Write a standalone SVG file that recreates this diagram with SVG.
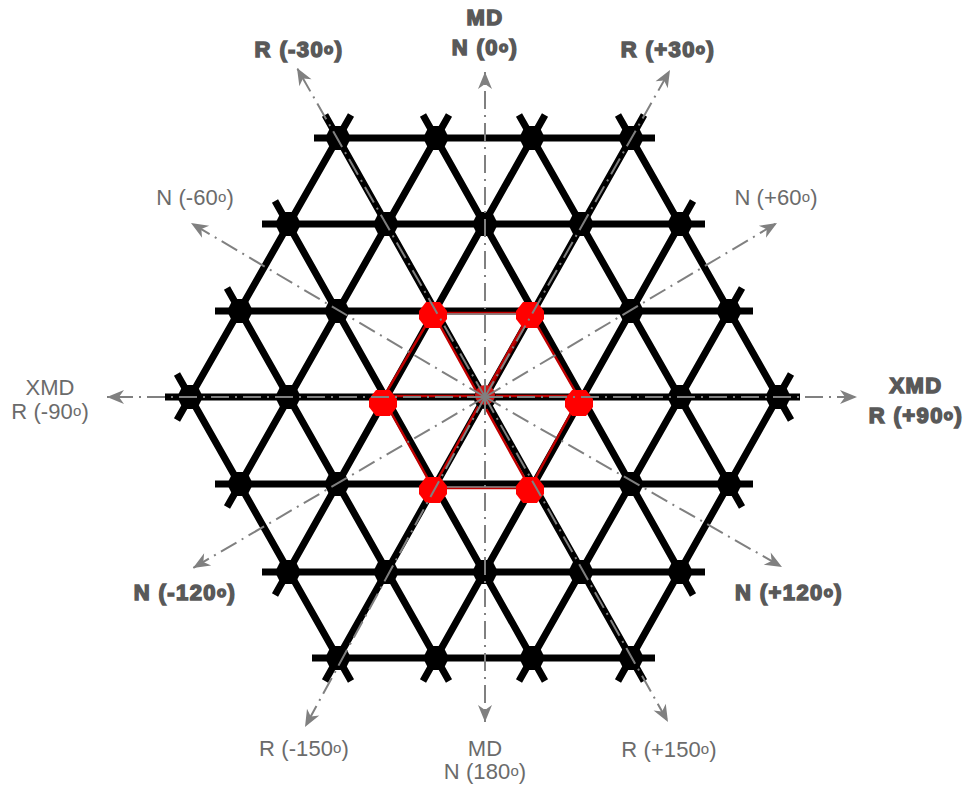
<svg xmlns="http://www.w3.org/2000/svg" width="966" height="785" viewBox="0 0 966 785">
<style>
.g{stroke:#000;stroke-width:7;fill:none}
.r{stroke:#c00000;stroke-width:2.5;fill:none;stroke-linecap:round}
.a{stroke:#808080;stroke-width:2;fill:none;stroke-dasharray:18 6 2 6;marker-end:url(#arr)}
.k{stroke:#8a8a8a;stroke-width:1.5;fill:none}
text{font-family:"Liberation Sans",Arial,sans-serif;font-size:22px;fill:#6b6b6b;text-anchor:middle;letter-spacing:.1px}
.b{font-size:22px;font-weight:bold;fill:#595959;stroke:#595959;stroke-width:1.5;letter-spacing:1.4px}
.s{font-size:15px}
</style>
<defs>
<marker id="arr" markerUnits="userSpaceOnUse" markerWidth="22" markerHeight="16" refX="19" refY="8" orient="auto"><path d="M19 8L2 1L7 8L2 15Z" fill="#808080"/></marker>
<polygon id="hb" points="-13,0 -7,-12 7,-12 13,0 7,12 -7,12" fill="#000"/>
<polygon id="hr" points="-14,-4 -7,-13 7,-13 14,-4 14,4 7,13 -7,13 -14,4" fill="#f00"/>
</defs>
<g id="connectors">
<path class="g" d="M314 138H655M262 224H705M215 311H753M165 397H800M215 484H753M262 572H705M312 658H655"/>
<path class="g" d="M618 115L791 420M519 115L742 507M423 115L693 595M325 115L644 681M275 201L545 681M227 288L449 681M177 374L351 681"/>
<path class="g" d="M351 115L177 420M449 115L227 507M545 115L275 595M644 115L325 681M693 201L423 681M742 288L519 681M791 374L618 681"/>
<path class="r" d="M433 313H530L579 398L530 488H433L383 398Z"/>
<path class="r" d="M383 396H579M433 313L530 488M530 313L433 488"/>
<path stroke="#c00000" stroke-width="4" stroke-opacity=".75" fill="none" d="M530 315L485 396"/>
<path class="k" d="M433 314H530M433 487H530"/>
</g>
<g id="nodes">
<g id="n01"><use href="#hb" x="338" y="138"/></g>
<g id="n02"><use href="#hb" x="436" y="138"/></g>
<g id="n03"><use href="#hb" x="532" y="138"/></g>
<g id="n04"><use href="#hb" x="631" y="138"/></g>
<g id="n05"><use href="#hb" x="288" y="224"/></g>
<g id="n06"><use href="#hb" x="386" y="224"/></g>
<g id="n07"><use href="#hb" x="485" y="224"/></g>
<g id="n08"><use href="#hb" x="581" y="224"/></g>
<g id="n09"><use href="#hb" x="680" y="224"/></g>
<g id="n10"><use href="#hb" x="240" y="311"/></g>
<g id="n11"><use href="#hb" x="337" y="311"/></g>
<g id="n12"><use href="#hb" x="631" y="311"/></g>
<g id="n13"><use href="#hb" x="729" y="311"/></g>
<g id="n14"><use href="#hb" x="190" y="397"/></g>
<g id="n15"><use href="#hb" x="288" y="397"/></g>
<g id="n16"><use href="#hb" x="680" y="397"/></g>
<g id="n17"><use href="#hb" x="778" y="397"/></g>
<g id="n18"><use href="#hb" x="240" y="484"/></g>
<g id="n19"><use href="#hb" x="337" y="484"/></g>
<g id="n20"><use href="#hb" x="631" y="484"/></g>
<g id="n21"><use href="#hb" x="729" y="484"/></g>
<g id="n22"><use href="#hb" x="288" y="572"/></g>
<g id="n23"><use href="#hb" x="386" y="572"/></g>
<g id="n24"><use href="#hb" x="485" y="572"/></g>
<g id="n25"><use href="#hb" x="581" y="572"/></g>
<g id="n26"><use href="#hb" x="680" y="572"/></g>
<g id="n27"><use href="#hb" x="338" y="658"/></g>
<g id="n28"><use href="#hb" x="436" y="658"/></g>
<g id="n29"><use href="#hb" x="532" y="658"/></g>
<g id="n30"><use href="#hb" x="631" y="658"/></g>
<g id="r1"><use href="#hr" x="433" y="315"/></g>
<g id="r2"><use href="#hr" x="530" y="315"/></g>
<g id="r3"><use href="#hr" x="383" y="403"/></g>
<g id="r4"><use href="#hr" x="579" y="403"/></g>
<g id="r5"><use href="#hr" x="433" y="490"/></g>
<g id="r6"><use href="#hr" x="530" y="490"/></g>
<g id="center"><circle cx="485" cy="398" r="11" fill="#000"/><circle cx="485" cy="395" r="10" fill="#d01818"/></g>
</g>
<g id="axes">
<path class="a" d="M485 397V72"/>
<path class="a" d="M485 397V722"/>
<path class="a" d="M485 397H857"/>
<path class="a" d="M485 397H107"/>
<path class="a" d="M485 397L670 70"/>
<path class="a" d="M485 397L297 68"/>
<path class="a" d="M485 397L668 722"/>
<path class="a" d="M485 397L305 727"/>
<path class="a" d="M485 397L777 223"/>
<path class="a" d="M485 397L191 223"/>
<path class="a" d="M485 397L782 567"/>
<path class="a" d="M485 397L193 568"/>
</g>
<g id="labels">
<text class="b" x="485" y="25">MD</text>
<text class="b" x="485" y="55">N (0<tspan class="s" dy="-3">o</tspan><tspan dy="3">)</tspan></text>
<text class="b" x="299" y="57">R (-30<tspan class="s" dy="-3">o</tspan><tspan dy="3">)</tspan></text>
<text class="b" x="668" y="57">R (+30<tspan class="s" dy="-3">o</tspan><tspan dy="3">)</tspan></text>
<text x="195" y="205">N (-60<tspan class="s" dy="-3">o</tspan><tspan dy="3">)</tspan></text>
<text x="776" y="205">N (+60<tspan class="s" dy="-3">o</tspan><tspan dy="3">)</tspan></text>
<text x="50" y="395">XMD</text>
<text x="50" y="419">R (-90<tspan class="s" dy="-3">o</tspan><tspan dy="3">)</tspan></text>
<text class="b" x="916" y="393">XMD</text>
<text class="b" x="916" y="423">R (+90<tspan class="s" dy="-3">o</tspan><tspan dy="3">)</tspan></text>
<text class="b" x="185" y="600">N (-120<tspan class="s" dy="-3">o</tspan><tspan dy="3">)</tspan></text>
<text class="b" x="789" y="600">N (+120<tspan class="s" dy="-3">o</tspan><tspan dy="3">)</tspan></text>
<text x="304" y="756">R (-150<tspan class="s" dy="-3">o</tspan><tspan dy="3">)</tspan></text>
<text x="485" y="756">MD</text>
<text x="485" y="779">N (180<tspan class="s" dy="-3">o</tspan><tspan dy="3">)</tspan></text>
<text x="669" y="757">R (+150<tspan class="s" dy="-3">o</tspan><tspan dy="3">)</tspan></text>
</g>
</svg>
